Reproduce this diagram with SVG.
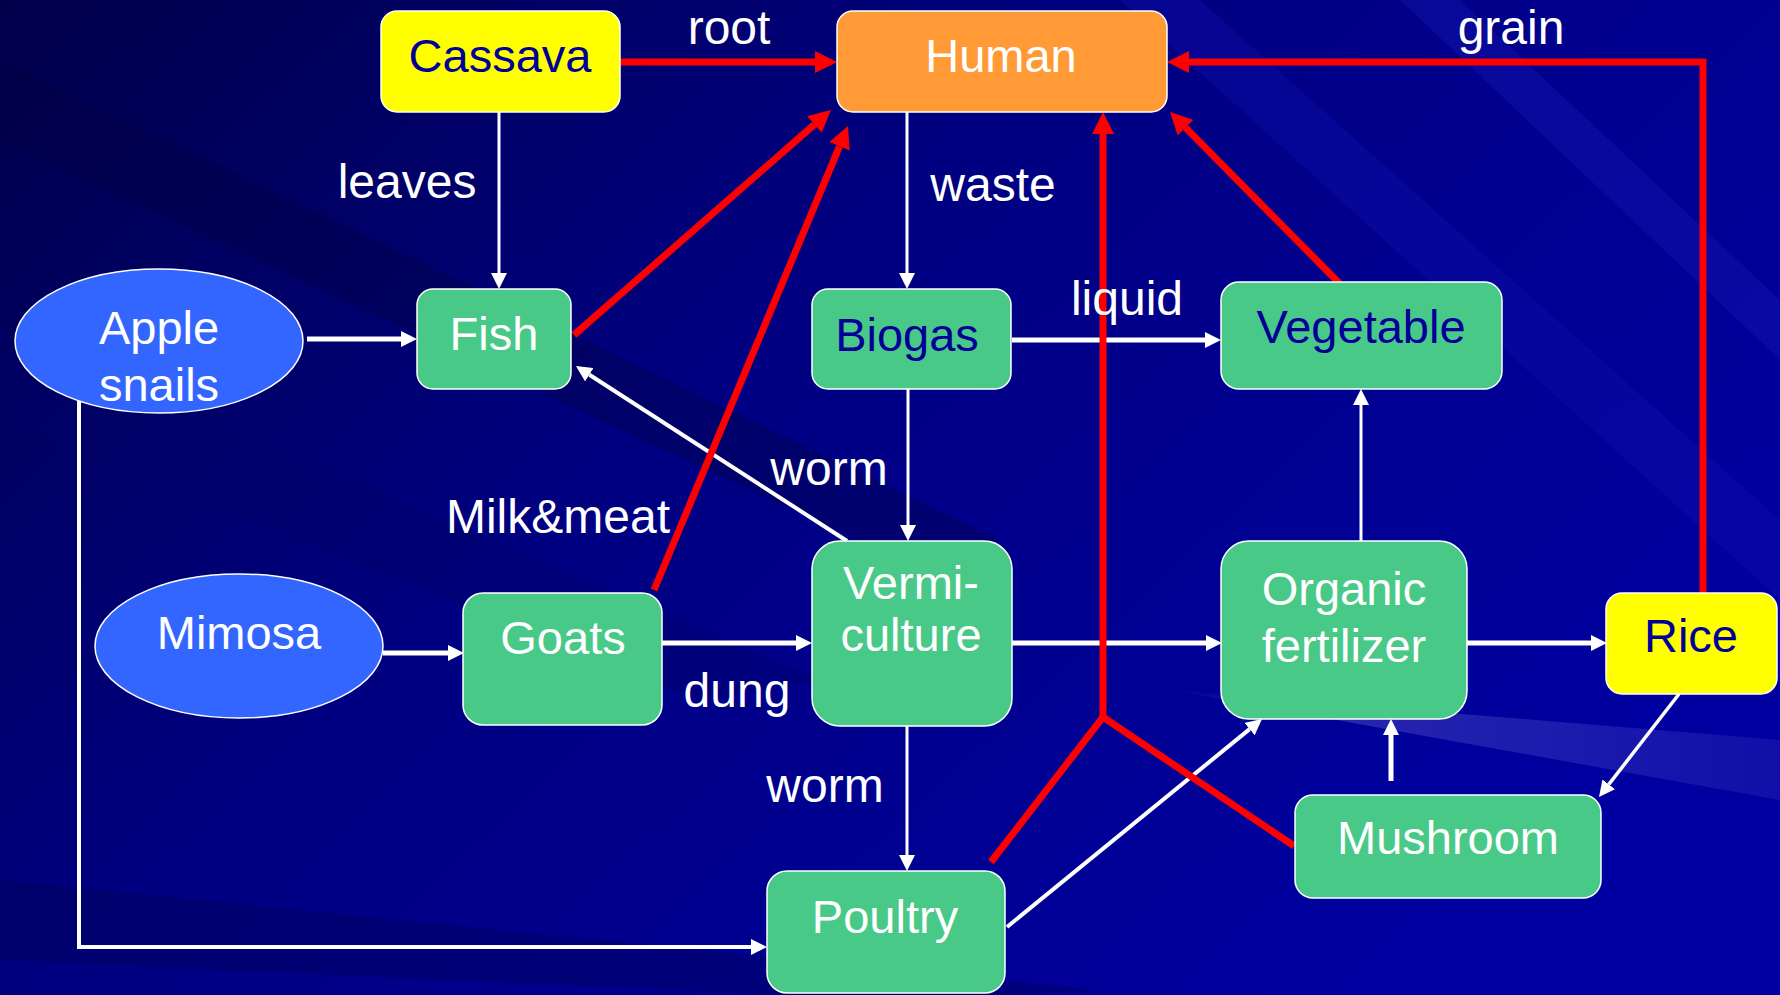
<svg xmlns="http://www.w3.org/2000/svg" width="1780" height="995" viewBox="0 0 1780 995">
<defs>
<linearGradient id="bg" x1="0" y1="0" x2="1" y2="0.6">
<stop offset="0" stop-color="#00004a"/>
<stop offset="0.45" stop-color="#000080"/>
<stop offset="1" stop-color="#0000a0"/>
</linearGradient>
<linearGradient id="band" x1="0" y1="0" x2="1" y2="0">
<stop offset="0" stop-color="#6a6ad8" stop-opacity="0"/>
<stop offset="0.3" stop-color="#6a6ad8" stop-opacity="0.35"/>
<stop offset="1" stop-color="#6a6ad8" stop-opacity="0.15"/>
</linearGradient>
<marker id="wa" markerUnits="userSpaceOnUse" markerWidth="16" markerHeight="16" refX="0" refY="8" orient="auto">
<path d="M0,0 L16,8 L0,16 z" fill="#ffffff"/>
</marker>
<marker id="ra" markerUnits="userSpaceOnUse" markerWidth="22" markerHeight="22" refX="0" refY="11" orient="auto">
<path d="M0,0 L22,11 L0,22 z" fill="#ff0000"/>
</marker>
</defs>
<style>
.box{stroke:#ffffff;stroke-width:1.5}
.green{fill:#49c988}
.yellow{fill:#ffff00}
.orange{fill:#ff9a36}
.oval{fill:#3366ff;stroke:#ffffff;stroke-width:1.5}
text{font-family:"Liberation Sans",Arial,sans-serif;text-anchor:middle}
.nt{font-size:47px;fill:#ffffff}
.nv{font-size:47px;fill:#000099}
.lb{font-size:48px;fill:#ffffff}
.w{fill:none;stroke:#ffffff;marker-end:url(#wa)}
.r{fill:none;stroke:#ff0000;stroke-width:7}
.ra{marker-end:url(#ra)}
</style>
<rect width="1780" height="995" fill="url(#bg)"/>
<g id="background-streaks">
<polygon points="0,60 0,140 900,560 1000,540" fill="#000040" opacity="0.35"/>
<polygon points="0,330 0,420 700,700 820,680" fill="#00006a" opacity="0.4"/>
<polygon points="0,880 0,960 900,1000 1100,990" fill="#000050" opacity="0.35"/>
<polygon points="1120,0 1200,0 1780,520 1780,600" fill="#1010b0" opacity="0.35"/>
<polygon points="1400,0 1460,0 1780,300 1780,360" fill="#1a1ab8" opacity="0.35"/>
<polygon points="1170,690 1780,740 1780,800" fill="url(#band)"/>
</g>
<g id="connectors">
<path class="w" stroke-width="3" d="M499,111 V273"/>
<path class="w" stroke-width="5" d="M307,339 H401"/>
<path class="w" stroke-width="4" d="M79,398 V947 H751"/>
<path class="w" stroke-width="3" d="M907,111 V273"/>
<path class="w" stroke-width="5" d="M1012,340 H1205"/>
<path class="w" stroke-width="3" d="M908,389 V525"/>
<path class="w" stroke-width="4" d="M847,541 L589.4,374.7"/>
<path class="w" stroke-width="5" d="M383,653 H448"/>
<path class="w" stroke-width="5" d="M656,643 H796"/>
<path class="w" stroke-width="5" d="M1012,643 H1206"/>
<path class="w" stroke-width="5" d="M1467,643 H1591"/>
<path class="w" stroke-width="3" d="M1361,541 V405"/>
<path class="w" stroke-width="3" d="M907,726 V855"/>
<path class="w" stroke-width="4" d="M1007,927 L1249.6,729.1"/>
<path class="w" stroke-width="5" d="M1391,781 V735"/>
<path class="w" stroke-width="3.5" d="M1679,694 L1608.8,784.4"/>
<path class="r ra" d="M620,62 H815"/>
<path class="r ra" stroke-width="6" d="M574,335 L814.4,124.5"/>
<path class="r ra" stroke-width="6" d="M654,590 L839.5,146.3"/>
<path class="r ra" d="M1703,593 V62 H1189"/>
<path class="r ra" stroke-width="6" d="M1342,286 L1185.5,127.6"/>
<path class="r" stroke-width="6" d="M991,862 L1103,717 L1294,846"/>
<path class="r ra" stroke-width="6" d="M1103,717 V134"/>
</g>
<g id="labels">
<text class="lb" x="729" y="44">root</text>
<text class="lb" x="407" y="198">leaves</text>
<text class="lb" x="993" y="201">waste</text>
<text class="lb" x="1127" y="315">liquid</text>
<text class="lb" x="1511" y="44">grain</text>
<text class="lb" x="829" y="485">worm</text>
<text class="lb" x="558" y="533">Milk&amp;meat</text>
<text class="lb" x="737" y="707">dung</text>
<text class="lb" x="825" y="802">worm</text>
</g>
<g id="cassava"><rect class="box yellow" x="381" y="11" width="239" height="101" rx="16"/><text class="nv" x="500" y="72">Cassava</text></g>
<g id="human"><rect class="box orange" x="837" y="11" width="330" height="101" rx="16"/><text class="nt" x="1001" y="72">Human</text></g>
<g id="apple-snails"><ellipse class="oval" cx="159" cy="341" rx="144" ry="72"/><text class="nt" x="159" y="344">Apple</text><text class="nt" x="159" y="401">snails</text></g>
<g id="fish"><rect class="box green" x="417" y="289" width="154" height="100" rx="16"/><text class="nt" x="494" y="350">Fish</text></g>
<g id="biogas"><rect class="box green" x="812" y="289" width="199" height="100" rx="16"/><text class="nv" x="907" y="351">Biogas</text></g>
<g id="vegetable"><rect class="box green" x="1221" y="282" width="281" height="107" rx="18"/><text class="nv" x="1361" y="343">Vegetable</text></g>
<g id="mimosa"><ellipse class="oval" cx="239" cy="646" rx="144" ry="72"/><text class="nt" x="239" y="649">Mimosa</text></g>
<g id="goats"><rect class="box green" x="463" y="593" width="199" height="132" rx="20"/><text class="nt" x="563" y="654">Goats</text></g>
<g id="vermiculture"><rect class="box green" x="812" y="541" width="200" height="185" rx="28"/><text class="nt" x="911" y="599">Vermi-</text><text class="nt" x="911" y="651">culture</text></g>
<g id="organic-fertilizer"><rect class="box green" x="1221" y="541" width="246" height="178" rx="28"/><text class="nt" x="1344" y="605">Organic</text><text class="nt" x="1344" y="662">fertilizer</text></g>
<g id="rice"><rect class="box yellow" x="1606" y="593" width="171" height="101" rx="16"/><text class="nv" x="1691" y="652">Rice</text></g>
<g id="mushroom"><rect class="box green" x="1295" y="795" width="306" height="103" rx="18"/><text class="nt" x="1448" y="854">Mushroom</text></g>
<g id="poultry"><rect class="box green" x="767" y="871" width="238" height="122" rx="20"/><text class="nt" x="885" y="933">Poultry</text></g>
</svg>
